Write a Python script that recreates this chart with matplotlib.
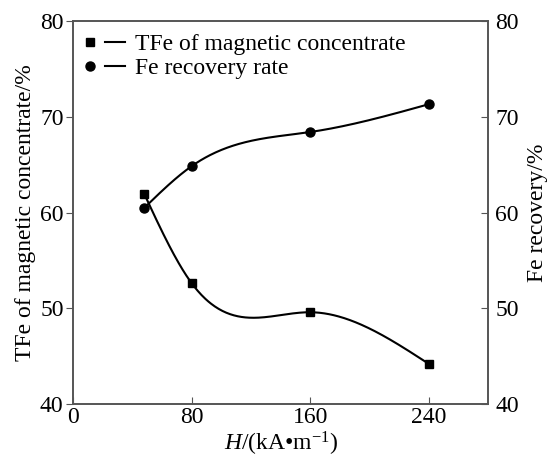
import numpy as np
import matplotlib
matplotlib.use("Agg")
import matplotlib.pyplot as plt
from matplotlib.legend_handler import HandlerTuple
from matplotlib.lines import Line2D

plt.rcParams['font.family'] = ['Liberation Serif', 'DejaVu Serif']
plt.rcParams['mathtext.fontset'] = 'custom'
plt.rcParams['mathtext.rm'] = 'Liberation Serif'
plt.rcParams['mathtext.it'] = 'Liberation Serif:italic'

# data
field = [48, 80, 160, 240]
tfe = [61.9, 52.6, 49.6, 44.2]
recovery = [60.5, 64.85, 68.4, 71.3]
xticks = [0, 80, 160, 240]
yticks = [40, 50, 60, 70, 80]


def natural_spline(x, y, xs):
    x = np.asarray(x, float)
    y = np.asarray(y, float)
    n = len(x)
    h = np.diff(x)
    A = np.zeros((n, n))
    b = np.zeros(n)
    A[0, 0] = A[-1, -1] = 1
    for i in range(1, n - 1):
        A[i, i - 1] = h[i - 1]
        A[i, i] = 2 * (h[i - 1] + h[i])
        A[i, i + 1] = h[i]
        b[i] = 6 * ((y[i + 1] - y[i]) / h[i] - (y[i] - y[i - 1]) / h[i - 1])
    M = np.linalg.solve(A, b)
    out = np.empty_like(xs)
    for k, t in enumerate(xs):
        i = min(max(np.searchsorted(x, t) - 1, 0), n - 2)
        a, c = x[i], x[i + 1]
        out[k] = (M[i] * (c - t) ** 3 / (6 * h[i]) + M[i + 1] * (t - a) ** 3 / (6 * h[i])
                  + (y[i] / h[i] - M[i] * h[i] / 6) * (c - t)
                  + (y[i + 1] / h[i] - M[i + 1] * h[i] / 6) * (t - a))
    return out


xs = np.linspace(field[0], field[-1], 300)

fig = plt.figure(figsize=(5.49, 4.61), dpi=100)
ax = fig.add_axes([0.1335, 0.123, 0.7559, 0.832])
ax2 = ax.twinx()

ax.plot(xs, natural_spline(field, tfe, xs), color='black', lw=1.5)
ax.plot(field, tfe, 's', color='black', ms=5.5)
ax.plot(xs, natural_spline(field, recovery, xs), color='black', lw=1.5)
ax.plot(field, recovery, 'o', color='black', ms=6.5)

ax.set_xlim(0, 280)
ax.set_ylim(40, 80)
ax2.set_ylim(40, 80)
ax.set_xticks(xticks)
ax.set_yticks(yticks)
ax2.set_yticks(yticks)

fs = 17
ax.tick_params(axis='x', direction='in', length=5, labelsize=fs, pad=2, color='#555555')
ax.tick_params(axis='y', direction='out', length=5, labelsize=fs, pad=2, color='#555555')
ax2.tick_params(axis='y', direction='in', length=5, labelsize=fs, pad=5, color='#555555')
for a in (ax, ax2):
    for s in a.spines.values():
        s.set_color('#555555')
        s.set_linewidth(1.2)

ax.set_xlabel(r'$\mathit{H}$/(kA•m$^{-1}$)', fontsize=fs, labelpad=1)
ax.set_ylabel('TFe of magnetic concentrate/%', fontsize=fs, labelpad=3)
ax2.set_ylabel('Fe recovery/%', fontsize=fs, labelpad=6)

sq = Line2D([], [], marker='s', ls='none', color='black', ms=5.5)
ci = Line2D([], [], marker='o', ls='none', color='black', ms=6.5)
ln = Line2D([], [], color='black', lw=1.5)
ax.legend([(sq, ln), (ci, ln)], ['TFe of magnetic concentrate', 'Fe recovery rate'],
          handler_map={tuple: HandlerTuple(ndivide=None, pad=0.2)},
          loc='upper left', frameon=False, fontsize=fs, handlelength=1.9,
          handletextpad=0.4, borderaxespad=0.0, borderpad=0.3, labelspacing=0.12,
          bbox_to_anchor=(0.0, 0.985))

fig.savefig('out.png', dpi=100)
